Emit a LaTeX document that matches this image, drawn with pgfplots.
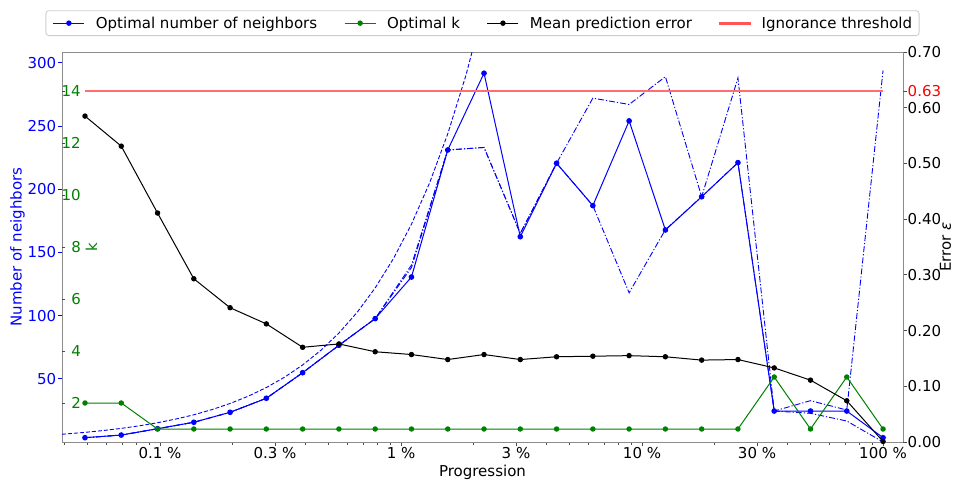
\documentclass[border=0pt]{standalone}
\usepackage{fontspec}
\setmainfont{DejaVu Sans}
\usepackage{pgfplots}
\pgfplotsset{compat=1.18}

\definecolor{nbblue}{RGB}{0,0,255}
\definecolor{kgreen}{RGB}{0,128,0}
\definecolor{thrred}{RGB}{255,110,110}
\definecolor{legred}{RGB}{255,85,85}
\definecolor{spine}{RGB}{140,140,140}

\begin{document}
\begin{tikzpicture}[font=\fontsize{15}{18}\selectfont]
\useasboundingbox (-62pt,-38pt) rectangle (893pt,442pt);

% ---------- number of neighbours (left, blue) ----------
\begin{axis}[
  scale only axis, width=841pt, height=390pt,
  at={(0pt,0pt)}, anchor=south west,
  xmode=log, xmin=0.0392, xmax=121,
  ymin=0, ymax=308.5,
  axis line style={spine, line width=0.8pt},
  xtick pos=left, ytick pos=left,
  tick align=outside,
  major tick length=4pt, minor tick length=2.5pt,
  xtick={0.1,0.3,1,3,10,30,100},
  xticklabels={0.1 \%,0.3 \%,1 \%,3 \%,10 \%,30 \%,100 \%},
  minor xtick={0.04,0.05,0.06,0.07,0.08,0.09,0.2,0.4,0.5,0.6,0.7,0.8,0.9,2,4,5,6,7,8,9,20,40,50,60,70,80,90},
  xtick style={black!70, line width=0.8pt},
  xticklabel style={anchor=north, inner sep=0pt, yshift=-1pt},
  ytick={50,100,150,200,250,300},
  yticklabels={50,100,150,200,250,300},
  ytick style={nbblue, line width=0.8pt},
  yticklabel style={nbblue, anchor=east, inner sep=0pt, xshift=-1.5pt},
  xlabel={Progression},
  xlabel style={inner sep=0pt, at={(axis description cs:0.5,-0.0769)}, anchor=center},
  ylabel={Number of neighbors},
  ylabel style={nbblue, inner sep=0pt, at={(axis description cs:-0.0529,0.5)}, anchor=center},
]
% proportional reference curve
\addplot[nbblue, line width=0.9pt, dash pattern=on 4pt off 2pt] coordinates {
  (0.0392,6.12) (0.048828,7.62) (0.058067,9.06) (0.069053,10.77)
  (0.082119,12.81) (0.097656,15.23) (0.116134,18.12) (0.138107,21.54)
  (0.164238,25.62) (0.195313,30.47) (0.232267,36.23) (0.276214,43.09)
  (0.328475,51.24) (0.390625,60.94) (0.464534,72.47) (0.552427,86.18)
  (0.656950,102.48) (0.78125,121.88) (0.929068,144.93) (1.104854,172.36)
  (1.313900,204.97) (1.5625,243.75) (1.858136,289.87) (2.209709,344.71)
};
% upper envelope
\addplot[nbblue, line width=0.9pt, dash pattern=on 6pt off 2pt on 1.2pt off 2pt] coordinates {
  (0.048828,3.4) (0.069053,5.5) (0.097656,10.5) (0.138107,15.6)
  (0.195313,23.5) (0.276214,34.6) (0.390625,54.8) (0.552427,76.5)
  (0.78125,97.6) (1.104854,140) (1.5625,231) (2.209709,233)
  (3.125,165) (4.419417,220.5) (6.25,272) (8.838835,267)
  (12.5,289) (17.67767,194) (25,288) (35.35534,24.5)
  (50,32.7) (70.71068,25.3) (100,294)
};
% lower envelope
\addplot[nbblue, line width=0.9pt, dash pattern=on 6pt off 2pt on 1.2pt off 2pt] coordinates {
  (0.048828,3.4) (0.069053,5.5) (0.097656,10.5) (0.138107,15.6)
  (0.195313,23.5) (0.276214,34.6) (0.390625,54.8) (0.552427,76.5)
  (0.78125,97.6) (1.104854,138) (1.5625,231) (2.209709,233)
  (3.125,165) (4.419417,220.5) (6.25,187) (8.838835,118)
  (12.5,168) (17.67767,194) (25,221) (35.35534,24.5)
  (50,22.7) (70.71068,16.6) (100,0)
};
% optimal number of neighbours
\addplot[nbblue, line width=1pt, mark=*, mark size=2.3pt] coordinates {
  (0.048828,3.4) (0.069053,5.5) (0.097656,10.5) (0.138107,15.6)
  (0.195313,23.5) (0.276214,34.6) (0.390625,54.8) (0.552427,76.5)
  (0.78125,97.6) (1.104854,130.5) (1.5625,231) (2.209709,291.7)
  (3.125,162.4) (4.419417,220.5) (6.25,187) (8.838835,254)
  (12.5,167.7) (17.67767,194) (25,221) (35.35534,24.5)
  (50,24.5) (70.71068,24.5) (100,3.4)
};
\end{axis}

% ---------- optimal k (inner left scale, green) ----------
\begin{axis}[
  scale only axis, width=841pt, height=390pt,
  at={(0pt,0pt)}, anchor=south west,
  xmode=log, xmin=0.0392, xmax=121,
  ymin=0.5, ymax=15.5,
  hide x axis,
  axis y line*=left,
  y axis line style={draw=none},
  tick align=inside, major tick length=3pt,
  ytick={2,4,6,8,10,12,14},
  yticklabels={2,4,6,8,10,12,14},
  ytick style={kgreen, line width=0.8pt},
  yticklabel style={kgreen, anchor=east, inner sep=0pt, xshift=19pt},
  ylabel={k},
  ylabel style={kgreen, inner sep=0pt, at={(axis description cs:0.0351,0.5)}, anchor=center},
]
\addplot[kgreen, line width=1pt, mark=*, mark size=2.2pt] coordinates {
  (0.048828,2) (0.069053,2) (0.097656,1) (0.138107,1)
  (0.195313,1) (0.276214,1) (0.390625,1) (0.552427,1)
  (0.78125,1) (1.104854,1) (1.5625,1) (2.209709,1)
  (3.125,1) (4.419417,1) (6.25,1) (8.838835,1)
  (12.5,1) (17.67767,1) (25,1) (35.35534,3)
  (50,1) (70.71068,3) (100,1)
};
\end{axis}

% ---------- prediction error (right, black) ----------
\begin{axis}[
  scale only axis, width=841pt, height=390pt,
  at={(0pt,0pt)}, anchor=south west,
  xmode=log, xmin=0.0392, xmax=121,
  ymin=0, ymax=0.70,
  hide x axis,
  axis y line*=right,
  y axis line style={spine, line width=0.8pt},
  tick align=outside, major tick length=4pt,
  ytick={0,0.1,0.2,0.3,0.4,0.5,0.6,0.7},
  yticklabels={0.00,0.10,0.20,0.30,0.40,0.50,0.60,0.70},
  ytick style={black!70, line width=0.8pt},
  yticklabel style={anchor=west, inner sep=0pt, xshift=0.5pt},
  extra y ticks={0.63},
  extra y tick labels={0.63},
  extra y tick style={yticklabel style={red}},
  ylabel={Error {\itshape ε}},
  ylabel style={inner sep=0pt, at={(axis description cs:1.0505,0.5)}, anchor=center},
  legend columns=4,
  legend image code/.code={%
    \draw[mark repeat=2, mark phase=2, #1]
      plot coordinates {(0pt,0pt) (15.5pt,0pt) (31pt,0pt)};},
  legend style={at={(axis description cs:0.5,1)}, anchor=south, yshift=16pt,
    draw=black!20, line width=0.8pt, rounded corners=3pt, fill=white,
    inner xsep=7pt, inner ysep=6pt,
    nodes={inner sep=0pt, anchor=west},
    /tikz/every odd column/.append style={column sep=11pt},
    /tikz/every even column/.append style={column sep=27pt}},
]
\addlegendimage{color=nbblue, line width=1pt, mark=*, mark size=2.2pt}
\addlegendentry{Optimal number of neighbors}
\addlegendimage{color=kgreen, line width=1pt, mark=*, mark size=2.2pt}
\addlegendentry{Optimal k}
\addlegendimage{color=black, line width=1pt, mark=*, mark size=2.2pt}
\addlegendentry{Mean prediction error}
\addlegendimage{legend image code/.code={%
  \fill[legred, rounded corners=0pt] (0pt,-0.85pt) rectangle (31pt,0.85pt);}}
\addlegendentry{Ignorance threshold}
\addplot[forget plot, thrred, line width=1.2pt] coordinates {(0.048828,0.63) (100,0.63)};
\addplot[forget plot, black, line width=1pt, mark=*, mark size=2.2pt] coordinates {
  (0.048828,0.585) (0.069053,0.531) (0.097656,0.411) (0.138107,0.293)
  (0.195313,0.241) (0.276214,0.212) (0.390625,0.170) (0.552427,0.176)
  (0.78125,0.162) (1.104854,0.157) (1.5625,0.148) (2.209709,0.157)
  (3.125,0.148) (4.419417,0.153) (6.25,0.154) (8.838835,0.155)
  (12.5,0.153) (17.67767,0.147) (25,0.148) (35.35534,0.133)
  (50,0.111) (70.71068,0.074) (100,0.001)
};
\end{axis}
\end{tikzpicture}
\end{document}
